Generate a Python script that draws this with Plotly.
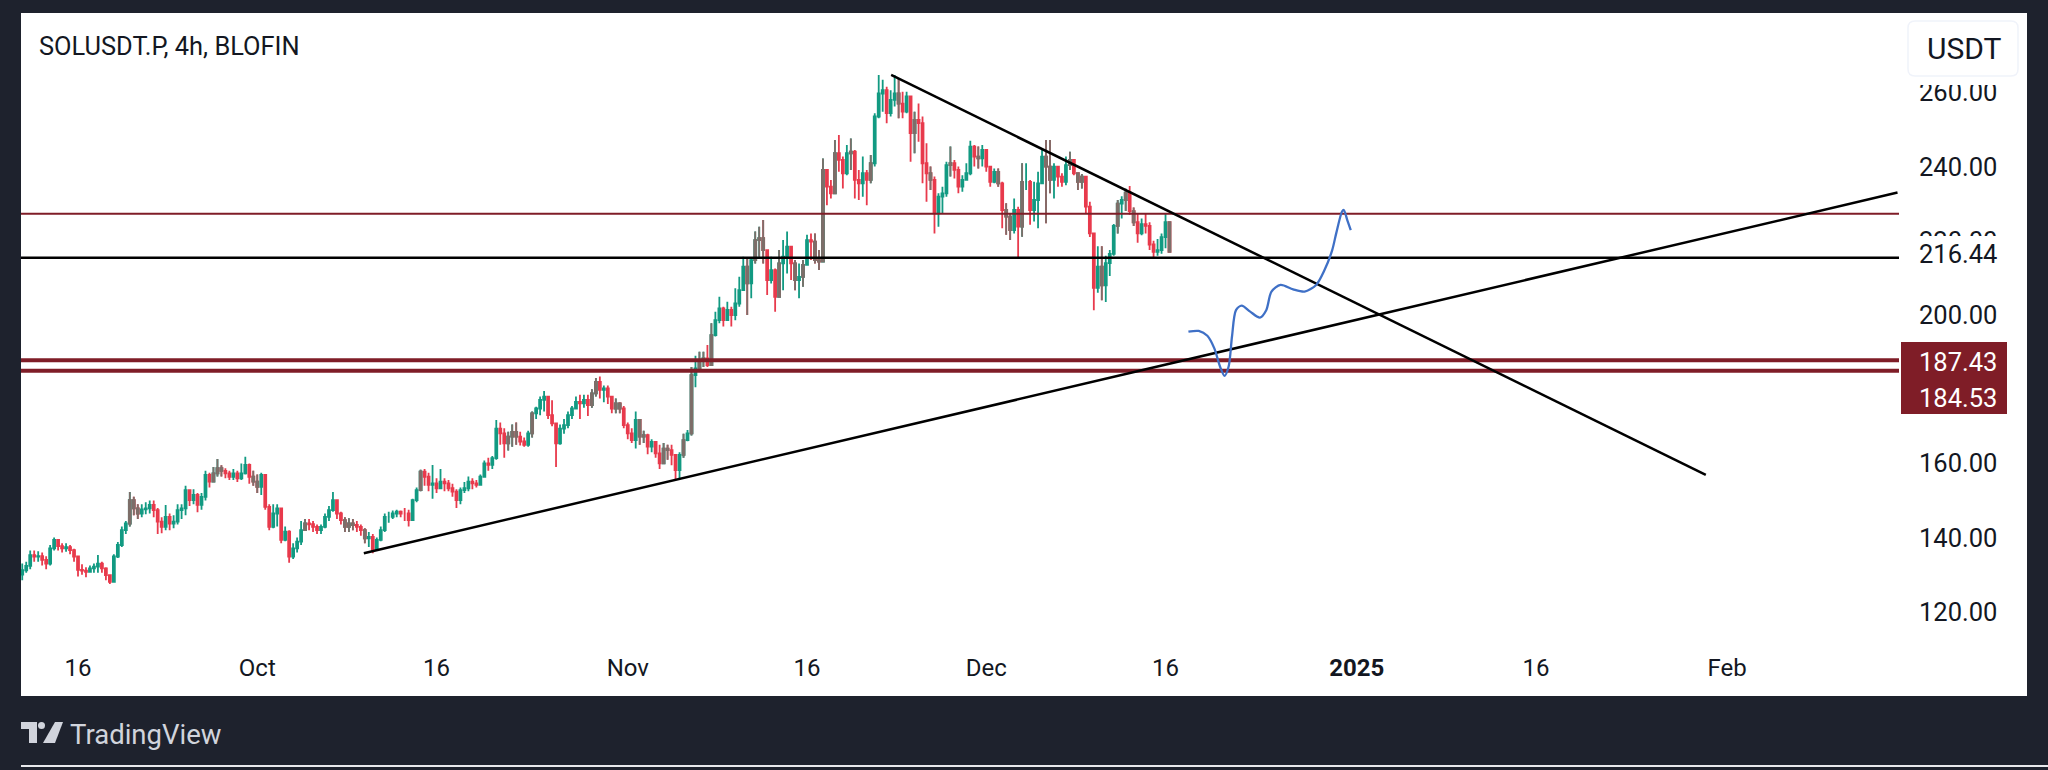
import pandas as pd
import plotly.graph_objects as go

# candles, one every 8h, open = previous close
first_open = 130.0
closes = [
    131.2,132.4,135.3,134.9,135.0,134.0,133.0,137.1,139.4,137.7,
    137.1,137.4,136.6,134.9,131.3,131.1,130.8,131.7,132.2,133.0,
    131.7,129.9,128.1,134.9,138.0,142.0,143.8,150.1,147.9,146.5,
    147.6,147.9,148.8,147.4,144.3,142.9,145.6,143.8,144.3,147.4,
    147.9,152.8,150.1,151.5,148.8,151.0,156.9,155.1,157.3,158.7,
    158.0,157.3,156.4,157.3,156.0,157.3,159.6,156.4,155.1,153.7,
    156.9,148.3,142.9,146.5,147.9,139.4,141.6,134.9,137.1,138.9,
    142.0,143.8,143.6,142.9,142.0,142.9,145.6,147.4,150.1,146.5,
    144.7,142.9,143.8,143.4,142.9,142.0,139.8,140.2,136.6,139.4,
    142.0,145.6,145.6,146.5,147.0,146.5,146.5,144.7,150.1,152.8,
    157.8,156.4,154.2,154.6,153.3,155.1,154.6,153.3,152.4,150.1,
    152.8,153.3,155.1,154.6,154.2,156.4,160.0,159.6,161.4,169.4,
    168.1,165.4,167.2,168.5,167.2,165.9,165.0,168.1,173.5,174.8,
    177.1,178.0,173.0,170.8,165.4,169.4,170.3,173.0,174.8,176.6,
    176.2,177.1,175.7,178.9,182.0,179.8,180.2,178.0,174.8,176.2,
    174.8,170.3,168.1,166.3,171.7,167.2,167.6,164.5,165.8,162.7,
    160.0,164.0,163.6,162.3,158.2,162.3,166.3,168.1,183.8,185.6,
    187.9,188.3,186.5,194.6,198.6,201.8,198.6,201.4,200.0,203.1,
    206.7,213.0,208.5,214.8,220.2,220.7,217.5,209.4,212.1,204.9,
    213.9,215.7,218.4,213.9,209.4,210.3,213.5,220.2,219.8,214.8,
    214.4,239.1,234.6,232.8,243.6,241.8,238.2,243.6,244.0,236.4,
    235.5,238.2,236.4,240.9,253.5,259.7,260.6,254.4,258.0,259.7,
    257.0,254.8,258.9,249.0,252.6,251.7,240.9,238.2,236.4,227.4,
    231.9,232.8,240.4,240.9,239.1,234.6,236.4,238.2,245.4,242.7,
    242.2,244.5,240.0,235.9,238.6,235.5,228.3,226.5,222.9,228.3,
    223.8,235.9,235.9,228.3,231.0,235.5,242.7,240.0,236.4,240.0,
    237.3,235.9,240.4,241.8,238.2,235.9,237.3,229.2,222.0,207.3,
    213.0,208.0,214.0,216.5,224.0,230.0,231.0,233.0,228.0,225.0,
    222.0,224.5,224.0,219.0,217.0,217.5,221.0,225.0,217.0,
]
highs = [
    133,133.5,136.5,136.5,136.3,136,135,138,140,139.5,
    138.5,138.5,138,137,135,132.8,132,132.5,133,135.3,
    133.5,132,130,135.5,138.8,143,144.5,152.3,151,149,
    149,149.5,150,150,148,145.5,148.8,146.5,146,149,
    149,154,153,153,152,152,158,157.5,159,161.2,
    159.5,158.7,158,158.5,158,160,161.8,160,158,157,
    157.5,157,149,149,149,148,143,142,138.5,140,
    144.5,145,145,144.5,143.5,143.5,146.5,148.5,152.3,150,
    147,145.5,145.2,145,144.5,143.5,142.5,141.5,141,140,
    143,146.5,147,147.3,147.5,147.3,148,147.5,150.5,153.5,
    158.3,158.5,157.5,159.6,156,158.5,156,155.5,154.5,153,
    153.5,155,156.5,156,155.5,157,160.8,161.5,162,171.7,
    171,169.5,168.5,170.5,171,168.5,167,168.8,174,175.3,
    178,179.5,177.3,177,171,170.5,172,174,175.5,178,
    178.5,178.5,178.5,180,183,183.4,181,181,178,177.5,
    176.5,175.5,171,169.5,174,172,168.8,168,166.5,166,
    165,165.5,165,165,162.5,163,168,169,186,189,
    190.1,190.1,191.9,197.8,200.9,204.9,202.2,203.6,202.2,207.2,
    210.3,215.7,215.3,215.5,222.5,223.8,225.6,217.5,215.7,212.5,
    217.5,220.2,222.5,218.4,214.8,213.9,214.8,221.6,222,222,
    217.5,242.2,239.1,236.4,247.2,248.5,242.7,245.8,247.6,244.5,
    239.1,242.7,239.1,243.1,254.4,264.7,263.4,261.5,260.6,264.7,
    263.8,260.2,260.2,258.9,254.8,257,253.5,246.3,240,237.3,
    232.8,234.6,241.3,245.4,241.8,240,237.7,240.9,247,245.8,
    245.4,245.8,241.3,240,239.5,239.5,235.9,230.1,227.4,231.4,
    229.2,240.9,240.9,236.4,235.9,238.6,244.9,247.2,247.2,240.9,
    240,238.2,242.7,244,241.8,238.2,238,235,230.5,222,
    218.5,218.5,216,217.5,224.5,231,232,234,234.8,229,
    227.5,226,227.5,225,220,220.5,222,227.5,223.5,
]
lows = [
    128.5,130.5,131.5,133.5,133.5,132.5,131.5,132.5,136.5,136.5,
    136,136.2,135.5,133.5,129.5,130,129.3,130.5,130.5,130.5,
    130.5,128.5,127.5,127.8,134.5,137.5,141,143,146,145,
    145.5,146.3,146.5,145.5,141,141.2,142,142,142.5,143.5,
    145,146,148.5,149,146.8,147.5,150,153.5,155,156.5,
    156.5,156,155.5,155.5,155,155.5,157,154.5,154,152,
    151.5,147.5,142,142.5,143,138.5,139,133.2,134.2,136,
    138,142,142,141.5,141,141,142.5,144.5,147,145,
    143.5,141.5,141.5,142,141.5,140.5,138.5,137.5,135.8,136.5,
    139,141.5,144,145,145.5,145.5,144.5,143,144.5,149.5,
    152.5,154,152.5,150.5,152,153,152.5,152.5,151,148,
    149,152,152.5,153,153.5,154.5,157,158,158.5,161,
    165,161.5,163.5,164.5,165,164.8,164.5,164.5,167,172,
    173,174,172,170,159,165,168,169.5,172,174.5,
    172,175,172.8,175,178,177.5,176.5,176,173.5,173.5,
    173.5,169.5,166.5,165.5,164,165,165.5,162.5,163,161.5,
    158.5,160.5,161,159.5,155.5,156,161.5,166,167.5,180.5,
    184.7,186,186,186.5,194.2,197.8,196.9,198.6,196.9,198.6,
    202.2,206.7,200,204.5,213.9,215.7,213.9,205.4,208.5,200.9,
    205.8,206.7,211.2,209.4,206.7,204.5,207.6,213.9,214.8,213.9,
    212.1,221.6,229.6,231.4,234.1,238.6,234.1,237.7,239.1,231.4,
    231,231.9,229.6,235.5,240,253,254.8,251.7,253.5,256.2,
    253,253,254.4,241.3,243.6,246.7,235.5,230.5,233.7,222,
    223.8,227.4,231.9,237.3,236.8,232.8,233.2,236.4,237.7,240,
    239.5,240,238.6,234.6,235.5,234.6,223.4,221.6,220.2,222,
    215.3,221.1,233.7,224.3,225.2,223.4,235.9,224.7,232.8,231.4,
    234.6,234.6,235,239.1,237.7,233.7,234.1,227.4,221,201.3,
    206,204,203.5,210.5,216,222,226,228,227,224,
    219.5,221.5,222,217.5,215.6,216,216.5,218,216.8,
]
opens = [first_open] + closes[:-1]
candle_times = pd.date_range("2024-09-11 08:00", periods=len(closes), freq="8h")

# bars that look grey in the screenshot, red and green smeared together
grey_bars = [
    27, 28, 29, 48, 49, 50, 58, 59, 71, 81, 82, 83, 86, 100, 122, 123, 124, 128,
    143, 144, 149, 150, 155, 156, 161, 162, 166, 168, 170, 171, 173, 182, 184, 185, 186,
    190, 194, 196, 199, 200, 201, 204, 208, 213, 220, 224, 228, 233, 240, 245, 247, 248,
    251, 257, 258, 263, 265, 266, 271, 275, 277, 279, 288,
]

# drawings on the chart
axis_start = "2024-09-11 05:30"
axis_end = "2025-02-15 09:00"
resistance_times = ["2024-11-23 01:00", "2025-01-30 05:00"]
resistance_prices = [264.7, 156.9]
support_times = ["2024-10-09 22:00", "2025-02-15 06:00"]
support_prices = [135.8, 233.0]
upper_level = 227.3
black_level = 215.4
red_levels = [187.8, 185.0]

path_times = [
    "2024-12-17 22:00","2024-12-18 18:40","2024-12-19 12:00","2024-12-20 02:00",
    "2024-12-20 13:30","2024-12-20 22:30","2024-12-21 06:45","2024-12-21 13:30",
    "2024-12-21 21:30","2024-12-22 09:00","2024-12-23 02:00","2024-12-23 21:30",
    "2024-12-24 10:15","2024-12-24 20:45","2024-12-25 15:00","2024-12-26 16:15",
    "2024-12-27 15:15","2024-12-28 14:30","2024-12-29 07:15","2024-12-29 22:45",
    "2024-12-30 06:45","2024-12-30 18:30","2024-12-30 22:00","2024-12-31 05:00",
    "2024-12-31 12:00",
]
path_prices = [
    195.5,195.7,194.4,191.0,186.1,183.6,186.1,194.2,201.3,202.5,200.9,199.3,
    201.3,206.3,208.1,206.9,206.3,208.1,212.1,217.5,222.0,227.9,228.3,225.6,222.9,
]

# axis labels
price_ticks = [120, 140, 160, 200, 220, 240, 260]
date_ticks = ["2024-09-16", "2024-10-01", "2024-10-16", "2024-11-01", "2024-11-16",
              "2024-12-01", "2024-12-16", "2025-01-01", "2025-01-16", "2025-02-01"]
date_labels = ["16", "Oct", "16", "Nov", "16", "Dec", "16", "<b>2025</b>", "16", "Feb"]

DARK = "#1e222d"
MAROON = "#7f1d27"
TEXT = "#131722"
GREY = "#7d6e69"
FONT = "Roboto"


# page pixels to paper coordinates
def px(x):
    return (x - 21) / 1878


def py(y):
    return (640 - y) / 627


def box(x0, y0, x1, y1, color, layer="above", line=None):
    return dict(type="rect", xref="paper", yref="paper", x0=px(x0), x1=px(x1), y0=py(y0), y1=py(y1),
                fillcolor=color, line=line or dict(width=0), layer=layer)


fig = go.Figure()

fig.add_trace(go.Candlestick(
    x=candle_times, open=opens, high=highs, low=lows, close=closes,
    increasing=dict(line=dict(color="#129a82", width=1.8), fillcolor="#129a82"),
    decreasing=dict(line=dict(color="#e83a4c", width=1.8), fillcolor="#e83a4c"),
    whiskerwidth=0,
))
fig.add_trace(go.Candlestick(
    x=[candle_times[i] for i in grey_bars],
    open=[opens[i] for i in grey_bars],
    high=[highs[i] for i in grey_bars],
    low=[lows[i] for i in grey_bars],
    close=[closes[i] for i in grey_bars],
    increasing=dict(line=dict(color=GREY, width=1.8), fillcolor=GREY),
    decreasing=dict(line=dict(color=GREY, width=1.8), fillcolor=GREY),
    whiskerwidth=0,
))

fig.add_trace(go.Scatter(x=[axis_start, axis_end], y=[upper_level, upper_level], mode="lines",
                         line=dict(color=MAROON, width=2)))
for level in red_levels:
    fig.add_trace(go.Scatter(x=[axis_start, axis_end], y=[level, level], mode="lines",
                             line=dict(color=MAROON, width=4)))
fig.add_trace(go.Scatter(x=[axis_start, axis_end], y=[black_level, black_level], mode="lines",
                         line=dict(color="#000000", width=2.5)))
fig.add_trace(go.Scatter(x=resistance_times, y=resistance_prices, mode="lines",
                         line=dict(color="#000000", width=2.5)))
fig.add_trace(go.Scatter(x=support_times, y=support_prices, mode="lines",
                         line=dict(color="#000000", width=2.5)))
fig.add_trace(go.Scatter(x=path_times, y=path_prices, mode="lines",
                         line=dict(color="#3f70c6", width=2.3, shape="spline", smoothing=0.8)))

shapes = [
    box(21, 13, 2027, 696, "#ffffff", layer="below"),
    box(21, 765, 2048, 767, "#e8e9ec"),
    # covers what the price labels hide
    box(1905, 70, 2005, 85, "#ffffff"),
    box(1905, 236, 2005, 276, "#ffffff"),
    box(1901, 342, 2007, 379, MAROON),
    box(1901, 378, 2007, 414, MAROON),
    # TradingView logo
    dict(type="path", xref="paper", yref="paper", layer="above", fillcolor="#d1d4dc", line=dict(width=0),
         path=f"M {px(21)} {py(722)} L {px(37)} {py(722)} L {px(37)} {py(743)} L {px(29)} {py(743)} "
              f"L {px(29)} {py(729)} L {px(21)} {py(729)} Z"),
    dict(type="circle", xref="paper", yref="paper", layer="above", fillcolor="#d1d4dc", line=dict(width=0),
         x0=px(38), x1=px(45), y0=py(729), y1=py(722)),
    dict(type="path", xref="paper", yref="paper", layer="above", fillcolor="#d1d4dc", line=dict(width=0),
         path=f"M {px(55)} {py(722)} L {px(63)} {py(722)} L {px(55)} {py(743)} L {px(43)} {py(743)} Z"),
    # USDT button
    dict(type="path", xref="paper", yref="paper", layer="above", fillcolor="#ffffff",
         line=dict(color="#f0f3fa", width=1.5),
         path=f"M {px(1915)} {py(21)} L {px(2011)} {py(21)} Q {px(2018)} {py(21)} {px(2018)} {py(28)} "
              f"L {px(2018)} {py(69)} Q {px(2018)} {py(76)} {px(2011)} {py(76)} L {px(1915)} {py(76)} "
              f"Q {px(1908)} {py(76)} {px(1908)} {py(69)} L {px(1908)} {py(28)} Q {px(1908)} {py(21)} {px(1915)} {py(21)} Z"),
]


def label(text, x, y, size=25.5, color=TEXT, anchor="left"):
    return dict(text=text, xref="paper", yref="paper", x=px(x), y=py(y), showarrow=False,
                xanchor=anchor, yanchor="middle", font=dict(family=FONT, size=size, color=color))


annotations = [
    label("SOLUSDT.P, 4h, BLOFIN", 37, 46, size=25.4),
    label("USDT", 1925, 49, size=30),
    label("216.44", 1917, 254),
    label("187.43", 1917, 362, color="#ffffff"),
    label("184.53", 1917, 398, color="#ffffff"),
    label("TradingView", 68, 734, size=27.5, color="#d1d4dc"),
]

fig.update_layout(
    width=2048, height=770,
    margin=dict(l=21, r=149, t=13, b=130),
    paper_bgcolor=DARK, plot_bgcolor="#ffffff",
    showlegend=False,
    shapes=shapes, annotations=annotations,
    font=dict(family=FONT, color=TEXT),
    xaxis=dict(type="date", range=[axis_start, axis_end], rangeslider=dict(visible=False),
               tickmode="array", tickvals=date_ticks, ticktext=date_labels,
               tickfont=dict(family=FONT, size=24, color=TEXT), tickangle=0,
               showgrid=False, zeroline=False, showline=False, ticks="", ticklabelstandoff=11),
    yaxis=dict(range=[112.4, 281.4], side="right", tickmode="array", tickvals=price_ticks,
               ticktext=[f"{p:.2f}" for p in price_ticks],
               tickfont=dict(family=FONT, size=25.5, color=TEXT),
               showgrid=False, zeroline=False, showline=False, ticks="", ticklabelstandoff=19),
)

fig.write_html("out.html", config=dict(displayModeBar=False),
               post_script="document.body.style.margin='0';document.body.style.overflow='hidden';")
